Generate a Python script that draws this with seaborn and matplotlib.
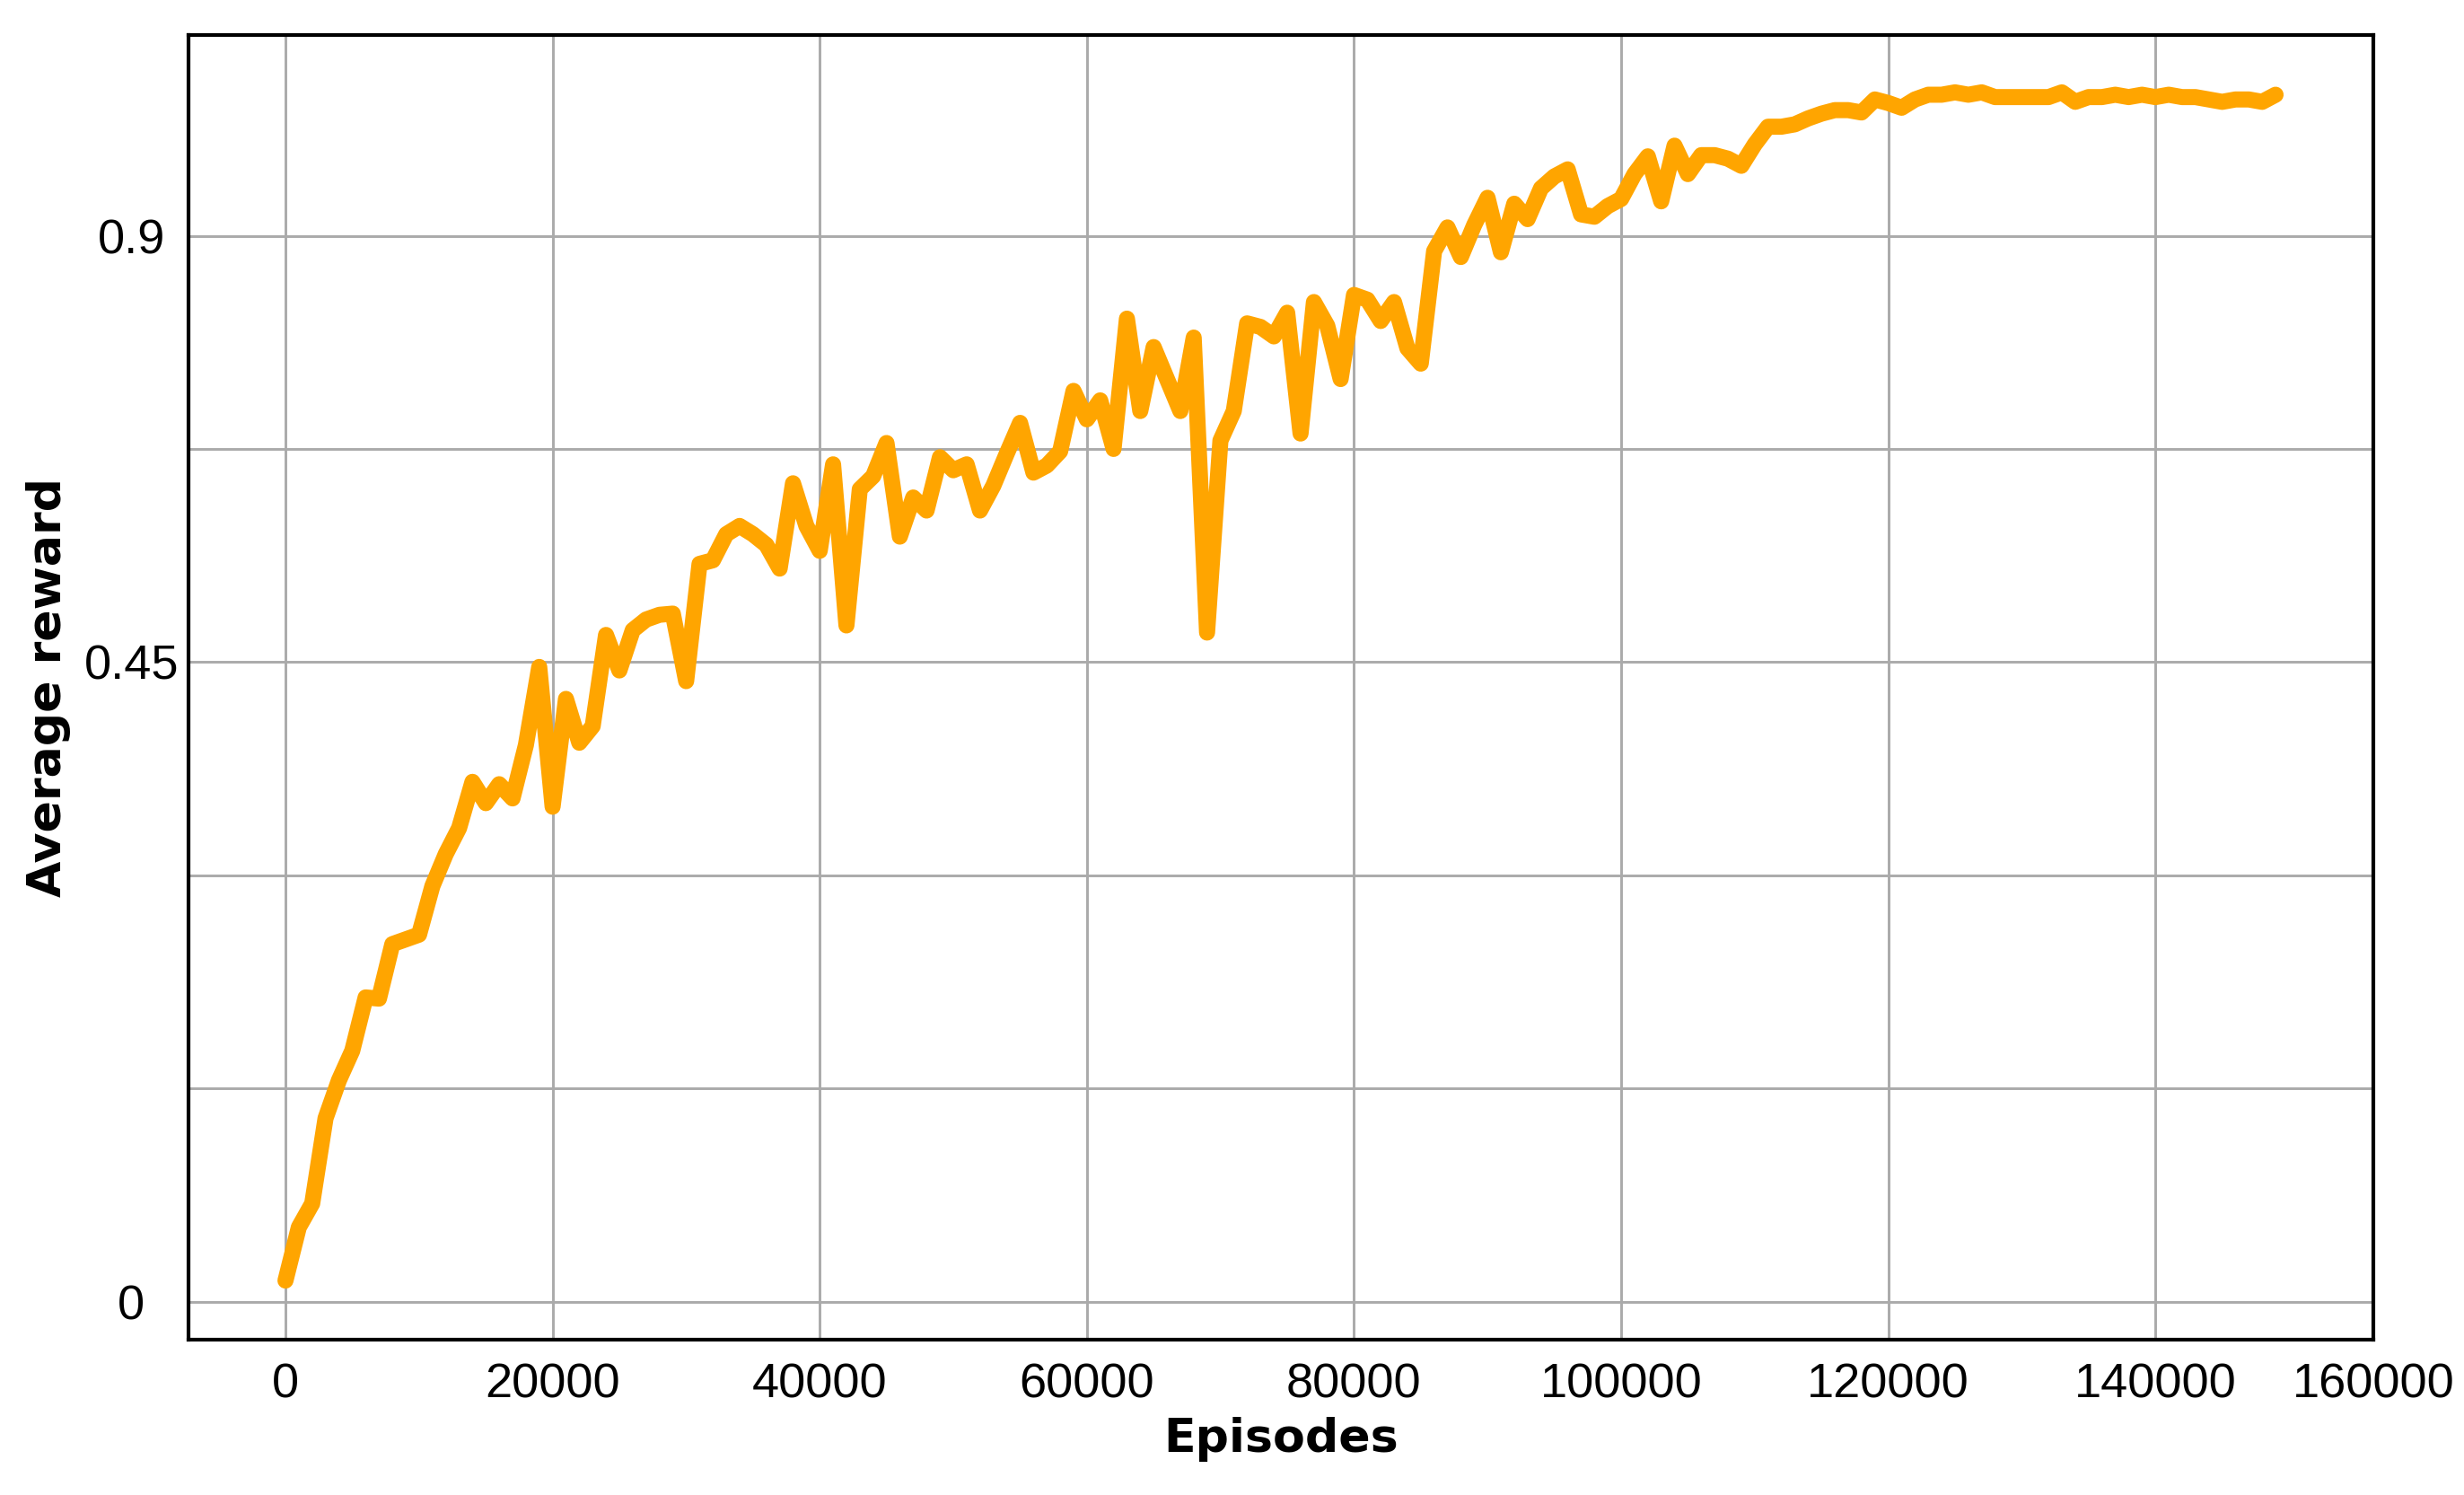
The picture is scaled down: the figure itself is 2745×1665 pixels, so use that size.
import seaborn as sns
import matplotlib.pyplot as plt
import pandas as pd

episodes = list(range(0, 150000, 1000))
reward = [
    0.018, 0.063, 0.083, 0.155, 0.187, 0.212, 0.257, 0.256, 0.302, 0.306,
    0.310, 0.351, 0.378, 0.400, 0.439, 0.421, 0.437, 0.425, 0.470, 0.536,
    0.418, 0.509, 0.472, 0.486, 0.563, 0.533, 0.567, 0.576, 0.580, 0.581,
    0.524, 0.623, 0.626, 0.648, 0.655, 0.648, 0.639, 0.619, 0.691, 0.655,
    0.634, 0.707, 0.571, 0.686, 0.697, 0.725, 0.646, 0.679, 0.668, 0.713,
    0.702, 0.707, 0.668, 0.689, 0.716, 0.742, 0.700, 0.706, 0.718, 0.769,
    0.745, 0.761, 0.720, 0.830, 0.752, 0.806, 0.779, 0.752, 0.814, 0.565,
    0.727, 0.752, 0.826, 0.823, 0.815, 0.835, 0.733, 0.844, 0.824, 0.779,
    0.850, 0.846, 0.828, 0.844, 0.805, 0.792, 0.887, 0.907, 0.882, 0.909,
    0.932, 0.886, 0.927, 0.914, 0.940, 0.950, 0.956, 0.918, 0.916, 0.925,
    0.931, 0.952, 0.967, 0.929, 0.976, 0.952, 0.968, 0.968, 0.965, 0.959,
    0.977, 0.992, 0.992, 0.994, 0.999, 1.003, 1.006, 1.006, 1.004, 1.015,
    1.012, 1.008, 1.015, 1.019, 1.019, 1.021, 1.019, 1.021, 1.017, 1.017,
    1.017, 1.017, 1.017, 1.021, 1.013, 1.017, 1.017, 1.019, 1.017, 1.019,
    1.017, 1.019, 1.017, 1.017, 1.015, 1.013, 1.015, 1.015, 1.013, 1.019,
]

x_ticks = [0, 20000, 40000, 60000, 80000, 100000, 120000, 140000]
x_tick_labels = ["0", "20000", "40000", "60000", "80000", "100000", "120000", "140000"]
x_edge_label = "160000"
y_ticks = [0, 0.18, 0.36, 0.54, 0.72, 0.9]
y_tick_labels = ["0", "", "", "0.45", "", "0.9"]

df = pd.DataFrame({"Episodes": episodes, "Average reward": reward})

sns.set_style("whitegrid")
plt.rcParams["font.family"] = ["Liberation Sans", "DejaVu Sans"]

fig = plt.figure(figsize=(9.15, 5.55), dpi=300)
ax = fig.add_axes([210 / 2745, 1 - 1491.5 / 1665, (2644 - 210) / 2745, (1491.5 - 39) / 1665])

sns.lineplot(data=df, x="Episodes", y="Average reward", color="#FFA500",
             linewidth=4.3, ax=ax, zorder=3)

xmin, xmax = -7260, 156320
ax.set_xlim(xmin, xmax)
ax.set_ylim(-0.0315, 1.0694)

ax.set_xticks(x_ticks + [xmax])
ax.set_xticklabels(x_tick_labels + [x_edge_label])
ax.set_yticks(y_ticks)
ax.set_yticklabels(y_tick_labels, ha="center")

ax.grid(True, color="#aaaaaa", linewidth=0.7)
for sp in ax.spines.values():
    sp.set_visible(True)
    sp.set_color("black")
    sp.set_linewidth(1.0)

ax.tick_params(axis="both", direction="out", length=3.8, width=0.8,
               color="black", labelsize=13, labelcolor="black")
ax.tick_params(axis="x", pad=2.5)
ax.tick_params(axis="y", pad=11.5)
# the edge label has no tick mark / grid line
last = ax.xaxis.get_major_ticks()[-1]
last.tick1line.set_visible(False)
last.gridline.set_visible(False)

ax.set_xlabel("Episodes", fontsize=12.5, fontweight="bold", color="black",
              family="DejaVu Sans", labelpad=2.5)
ax.set_ylabel("Average reward", fontsize=12.5, fontweight="bold", color="black",
              family="DejaVu Sans", labelpad=3.5)

fig.savefig("out.png", dpi=300)
